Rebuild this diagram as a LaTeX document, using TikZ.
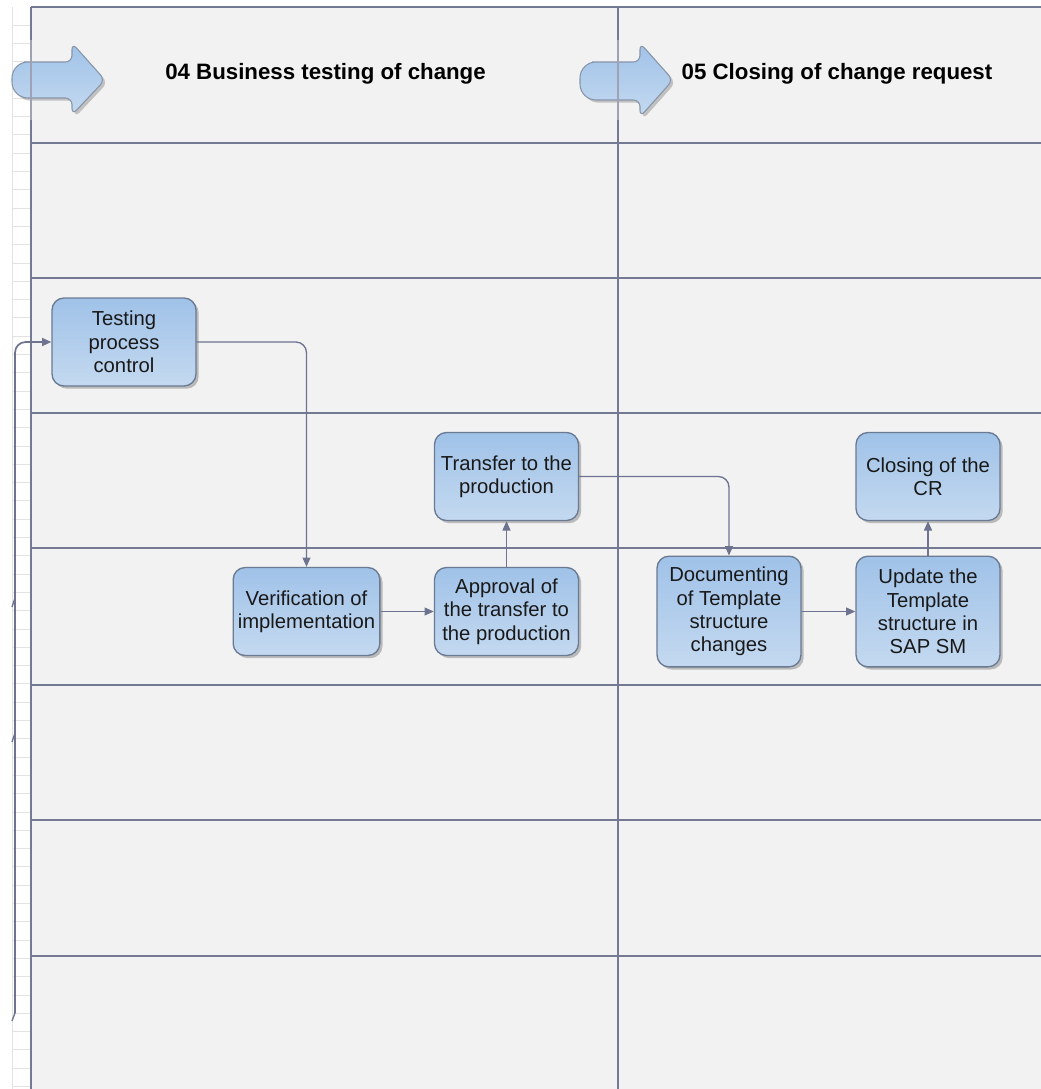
\documentclass[tikz,border=0pt]{standalone}
\usepackage{fontspec}
\setmainfont{Liberation Sans}
\usetikzlibrary{shadows,arrows.meta}
\definecolor{lane}{HTML}{757A94}
\definecolor{bg}{HTML}{F2F2F2}
\definecolor{boxtop}{HTML}{A0C2E8}
\definecolor{boxbot}{HTML}{C4D9F0}
\definecolor{boxdraw}{HTML}{6A7A92}
\definecolor{conn}{HTML}{6E7390}
\definecolor{gridc}{HTML}{E2E2E2}
\begin{document}
\begin{tikzpicture}[x=0.75pt,y=-0.75pt,
  procbox/.style={draw=boxdraw, line width=1pt, rounded corners=9pt,
    top color=boxtop, bottom color=boxbot, minimum width=108pt, minimum height=66pt,
    align=center, font=\fontsize{15.2}{17.6}\selectfont, text=black!90, inner sep=2pt,
    drop shadow={shadow xshift=2pt, shadow yshift=-2pt, opacity=0.4, fill=black!60}},
  conn/.style={draw=conn, line width=1pt, -{Triangle[length=7pt,width=6pt]}, rounded corners=8pt},
  connline/.style={draw=conn, line width=1pt},
  laneline/.style={draw=lane, line width=1.1pt},
  headarrow/.style={draw=boxdraw!80, line width=0.8pt, top color=boxtop, bottom color=boxbot,
    drop shadow={shadow xshift=2pt, shadow yshift=-2pt, opacity=0.35, fill=black!60}},
  headtext/.style={font=\fontsize{16.7}{20}\selectfont\bfseries, text=black}
]
\useasboundingbox (0,0) rectangle (1041,1089);
\fill[white] (0,0) rectangle (1041,1089);
% left grid strip
\foreach \k in {0,...,58} {
  \draw[gridc, line width=0.6pt] (12,25+18.3*\k) -- (31,25+18.3*\k);
}
\draw[gridc, line width=0.6pt] (12,7) -- (12,1089);
% background of lanes
\fill[bg] (31,7) rectangle (1041,1089);
% lane lines
\draw[laneline] (31,7) -- (1041,7);
\foreach \yy in {143,278,413,548,685,820,956} {
  \draw[laneline] (31,\yy) -- (1041,\yy);
}
\draw[laneline] (31,7) -- (31,1089);
\draw[laneline] (618,7) -- (618,1089);

% header arrows
\draw[headarrow] (40,62) [rounded corners=5pt] -- (72,62) -- (72,43) -- (105,80) -- (72,115) -- (72,98) [rounded corners=12pt] -- (12,98) -- (12,62) -- cycle;
\draw[headarrow] (608,62) [rounded corners=5pt] -- (640,62) -- (640,43) -- (673,80) -- (640,117) -- (640,100) [rounded corners=12pt] -- (580,100) -- (580,62) -- cycle;
\draw[lane!70, line width=1.1pt] (31,40) -- (31,120);
\draw[lane!70, line width=1.1pt] (618,40) -- (618,120);

\node[headtext] (h4) at (325.5,74) {04 Business testing of change};
\node[headtext] (h5) at (837,74) {05 Closing of change request};

% process boxes
\node[procbox] (tpc) at (124,342) {Testing\\process\\control};
\node[procbox, minimum width=110pt] (ver) at (306.5,611.5) {Verification of\\implementation};
\node[procbox] (app) at (506.5,611.5) {Approval of\\the transfer to\\the production};
\node[procbox] (tra) at (506.5,476.5) {Transfer to the\\production};
\node[procbox, minimum height=83pt] (doc) at (729,611.5) {Documenting\\of Template\\structure\\changes};
\node[procbox, minimum height=83pt] (upd) at (928,611.5) {Update the\\Template\\structure in\\SAP SM};
\node[procbox] (clo) at (928,476.5) {Closing of the\\CR};

% connectors
\coordinate (lstart) at (15,1013);
\draw[conn, line width=1.3pt] (lstart) |- (tpc.west);
\draw[connline] (lstart) -- ++(-3,8);
\draw[connline] (15,598) -- (12,607);
\draw[connline] (15,733) -- (12,742);
\draw[conn] (tpc.east) -| (ver.north);
\draw[conn] (ver.east) -- (app.west);
\draw[conn] (app.north) -- (tra.south);
\draw[conn] (tra.east) -| (doc.north);
\draw[conn] (doc.east) -- (upd.west);
\draw[conn] (upd.north) -- (clo.south);
\end{tikzpicture}
\end{document}
